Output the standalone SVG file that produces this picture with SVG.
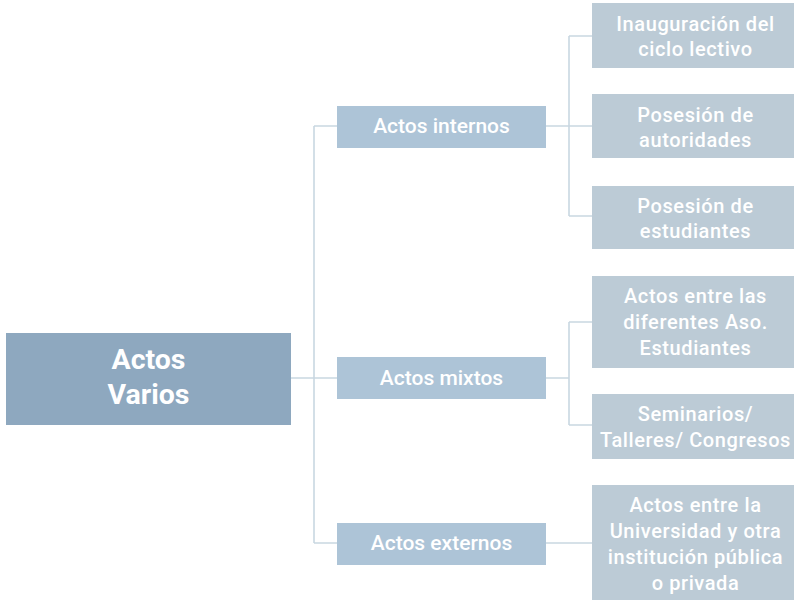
<svg xmlns="http://www.w3.org/2000/svg" width="794" height="601" viewBox="0 0 794 601">
<style>
.root{fill:#8ea8bf}
.mid{fill:#adc4d7}
.leaf{fill:#bccbd6}
text{font-family:Roboto,"Liberation Sans",sans-serif;fill:#ffffff;text-anchor:middle}
.rt{font-size:28.5px;font-weight:bold}
.mt{font-size:21px;font-weight:500}
.lt{font-size:20px;font-weight:500;letter-spacing:0.6px}
.conn{fill:none;stroke:#c9d7e1;stroke-width:1.6}
</style>
<rect width="794" height="601" fill="#ffffff"/>
<g id="connectors" class="conn">
<path d="M291 378H337M314 126V543M314 126H337M314 543H337"/>
<path d="M546 126H569M569 36V216M569 36H592M569 126H592M569 216H592"/>
<path d="M546 378H569M569 322V425M569 322H592M569 425H592"/>
<path d="M546 543H592"/>
</g>
<g id="root"><rect class="root" x="6" y="333" width="285" height="92"/><text class="rt" x="148.5" y="368.5">Actos</text><text class="rt" x="148.5" y="403.5">Varios</text></g>
<g id="internos"><rect class="mid" x="337" y="106" width="209" height="42"/><text class="mt" x="441.5" y="133">Actos internos</text></g>
<g id="mixtos"><rect class="mid" x="337" y="357" width="209" height="42"/><text class="mt" x="441.5" y="385">Actos mixtos</text></g>
<g id="externos"><rect class="mid" x="337" y="523" width="209" height="42"/><text class="mt" x="441.5" y="550">Actos externos</text></g>
<g id="leaf1"><rect class="leaf" x="592" y="3" width="202" height="65"/><text class="lt" x="695.5" y="31">Inauguración del</text><text class="lt" x="695.5" y="56">ciclo lectivo</text></g>
<g id="leaf2"><rect class="leaf" x="592" y="94" width="202" height="64"/><text class="lt" x="695.5" y="121.5">Posesión de</text><text class="lt" x="695.5" y="146.5">autoridades</text></g>
<g id="leaf3"><rect class="leaf" x="592" y="186" width="202" height="63"/><text class="lt" x="695.5" y="212.5">Posesión de</text><text class="lt" x="695.5" y="237.5">estudiantes</text></g>
<g id="leaf4"><rect class="leaf" x="592" y="276" width="202" height="92"/><text class="lt" x="695.5" y="303">Actos entre las</text><text class="lt" x="695.5" y="329">diferentes Aso.</text><text class="lt" x="695.5" y="355">Estudiantes</text></g>
<g id="leaf5"><rect class="leaf" x="592" y="394" width="202" height="65"/><text class="lt" x="695.5" y="421">Seminarios/</text><text class="lt" x="695.5" y="447">Talleres/ Congresos</text></g>
<g id="leaf6"><rect class="leaf" x="592" y="485" width="202" height="115"/><text class="lt" x="695.5" y="512">Actos entre la</text><text class="lt" x="695.5" y="538">Universidad y otra</text><text class="lt" x="695.5" y="564">institución pública</text><text class="lt" x="695.5" y="590">o privada</text></g>
</svg>
